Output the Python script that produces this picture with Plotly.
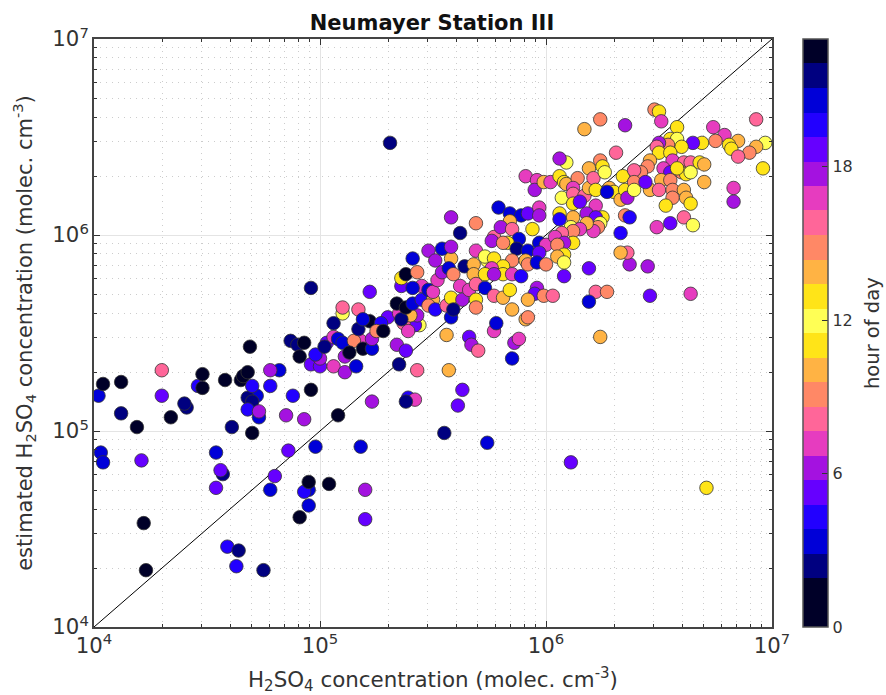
import plotly.graph_objects as go

# log10 of concentration, grouped by region; hour of day per point
low_x = [4.30,4.30,4.21,4.02,4.03,4.04,4.04,4.12,4.12,4.19,
         4.34,4.41,4.40,4.46,4.48,4.48,4.58,4.65,4.66,4.68,
         4.61,4.70,4.72,4.68,4.70,4.70,4.68,4.73,4.73,4.82,
         4.78,4.78,4.88,4.85,4.93,4.96,5.08,5.23,4.54,4.54,
         4.57,4.56,4.80,4.86,4.78,4.98,4.95,4.93,4.95,5.04,
         4.95,4.91,4.22,4.23,4.59,4.64,4.63,4.75,5.18,5.20,
         5.20,5.55,5.74,6.11,6.71,5.31,4.96,4.69]
low_y = [5.31,5.18,4.85,5.18,4.89,4.84,5.24,5.25,5.09,5.02,
         5.07,5.12,5.14,5.23,5.22,5.29,5.26,5.26,5.28,5.30,
         5.02,4.99,5.18,5.17,5.15,5.23,5.11,5.07,5.10,5.31,
         5.31,5.23,5.18,5.08,5.06,5.21,5.08,5.15,4.89,4.71,
         4.78,4.80,4.77,4.90,4.70,4.92,4.70,4.69,4.74,4.73,
         4.62,4.56,4.53,4.29,4.41,4.39,4.31,4.29,4.92,4.70,
         4.55,4.99,4.94,4.84,4.71,6.47,5.73,5.43]
low_h = [8,5,5,3,3,3,0,0,2,0,
         0,2,2,4,0,0,0,0,0,0,
         2,0,3,2,2,4,4,3,6,3,
         6,4,4,6,6,0,0,6,3,5,
         2,5,5,5,3,3,3,4,0,0,
         3,0,0,0,4,2,4,2,3,6,
         5,2,3,5,11,2,2,0]

mid_x = [4.96,5.00,5.00,4.98,5.06,5.11,5.16,5.11,4.87,4.90,
         4.93,4.91,5.03,5.06,5.08,5.02,5.10,5.18,5.15,5.13,
         5.19,5.23,5.23,5.10,5.10,5.17,5.06,5.17,5.22,5.19,
         5.22,5.30,5.27,5.25,5.28,5.34,5.38,5.35,5.43,5.57,
         5.56,5.39,5.42,5.38,5.63,5.61,5.66,5.67,5.70,5.77,
         5.78,5.85,5.86,5.88,5.85]
mid_y = [5.34,5.33,5.37,5.39,5.33,5.30,5.33,5.38,5.46,5.44,
         5.45,5.38,5.45,5.48,5.47,5.43,5.45,5.46,5.46,5.40,
         5.42,5.42,5.47,5.60,5.63,5.62,5.55,5.52,5.56,5.57,
         5.71,5.58,5.55,5.51,5.51,5.44,5.41,5.34,5.31,5.31,
         5.49,5.17,5.16,5.15,5.21,5.13,5.48,5.44,5.41,5.51,
         5.55,5.37,5.45,5.47,5.62]
mid_h = [5,5,6,4,7,6,3,6,2,2,
         0,0,5,7,3,2,3,7,9,0,
         0,3,6,12,8,8,2,2,0,3,
         5,5,4,9,0,6,5,2,8,10,
         10,4,7,2,5,5,5,6,8,7,
         3,3,6,7,10]

ctr_x = [5.44,5.42,5.37,5.39,5.43,5.35,5.40,5.36,5.34,5.38,
         5.41,5.45,5.50,5.48,5.51,5.56,5.58,5.63,5.58,5.59,
         5.36,5.36,5.45,5.38,5.43,5.41,5.48,5.50,5.52,5.54,
         5.58,5.57,5.59,5.62,5.64,5.68,5.68,5.66,5.69,5.69,
         5.69,5.48,5.51,5.54,5.58,5.41,5.58,5.69,5.62,5.69]
ctr_y = [5.54,5.54,5.55,5.51,5.59,5.60,5.59,5.57,5.65,5.63,
         5.65,5.67,5.67,5.64,5.62,5.64,5.68,5.67,5.58,5.62,
         5.74,5.78,5.74,5.80,5.81,5.73,5.72,5.71,5.77,5.81,
         5.88,5.83,5.80,5.74,5.84,5.85,5.80,5.72,5.75,5.67,
         5.63,5.92,5.87,5.93,5.94,5.88,6.09,6.06,6.01,5.92]
ctr_h = [12,5,8,7,6,7,10,2,0,0,
         3,4,10,9,4,8,11,6,3,2,
         5,11,7,0,9,3,3,7,7,6,
         10,3,9,7,2,10,10,7,8,11,
         9,6,6,3,6,3,6,9,2,7]

upc_x = [5.77,5.76,5.79,5.84,5.89,5.92,5.84,5.80,5.85,5.94,
         5.88,5.83,5.81,5.87,5.92,5.74,5.73,5.77,5.85,5.81,
         5.76,5.73,5.81,5.77,5.85,5.89,5.91,5.92,5.73,5.77,
         5.81,5.84,5.96,5.95,5.99,6.03,5.92,5.91,5.92,5.97,
         5.97,5.97,6.00,5.97,5.96,6.00,6.08,6.19,6.37,6.45,
         6.22,6.27,6.19,6.24,6.46,6.64,6.36,6.33,6.33,6.35,
         6.37,6.49,6.55,6.61,6.65]
upc_y = [5.99,5.97,6.14,6.11,6.10,6.11,6.07,6.04,6.03,6.03,
         5.98,5.96,5.96,5.93,5.92,5.87,5.89,5.88,5.87,5.84,
         5.83,5.80,5.80,5.80,5.80,5.79,5.87,5.85,5.73,5.69,
         5.68,5.72,5.73,5.70,5.69,5.69,5.67,5.57,5.58,6.14,
         6.10,5.96,5.95,5.91,5.86,5.85,5.79,5.83,5.85,5.84,
         5.71,5.71,5.66,5.48,5.69,5.70,5.91,5.91,6.01,6.10,
         6.09,6.04,6.06,6.09,6.05]
upc_h = [8,6,3,3,3,5,10,6,8,11,
         3,11,9,2,3,12,12,11,9,11,
         7,11,11,6,7,4,10,9,3,8,
         10,11,6,5,9,8,10,10,9,7,
         6,3,7,5,3,9,5,5,6,6,
         8,9,3,10,5,7,8,10,4,9,
         4,7,5,8,12]

hi_x = [6.17,6.24,6.35,6.31,6.24,6.19,6.09,6.06,5.91,5.96,
        5.95,5.99,6.02,6.06,6.08,6.09,6.14,6.12,6.07,6.12,
        6.12,6.17,6.15,6.19,6.21,6.25,6.26,6.28,6.30,6.22,
        6.27,6.22,6.33,6.35,6.36,6.34,6.12,6.06,6.06,6.18,
        6.25,6.22,6.24,6.23,6.21,6.18,6.11,6.15,6.12,6.07,
        6.04,6.12,6.08,6.05,6.08,6.05,6.08]
hi_y = [6.54,6.59,6.56,6.42,6.38,6.34,6.37,6.39,6.30,6.28,
        6.23,6.27,6.27,6.30,6.27,6.26,6.29,6.24,6.19,6.21,
        6.16,6.20,6.17,6.24,6.29,6.35,6.32,6.24,6.22,6.23,
        6.22,6.15,6.18,6.23,6.19,6.30,6.09,6.11,6.08,6.11,
        6.09,6.09,6.06,6.04,6.02,6.06,6.04,6.03,6.02,6.01,
        5.99,5.96,5.96,5.95,5.90,5.89,5.86]
hi_h = [10,9,6,8,9,10,12,6,7,7,
        6,10,7,11,11,10,9,7,12,8,
        11,8,5,10,8,11,12,10,11,11,
        3,7,10,11,6,11,10,11,4,6,
        11,5,12,9,7,10,12,7,9,8,
        7,11,6,9,11,10,12]

top_x = [6.48,6.50,6.51,6.58,6.74,6.79,6.85,6.93,6.75,6.81,
         6.82,6.97,6.93,6.90,6.85,6.96,6.69,6.65,6.55,6.58,
         6.60,6.54,6.50,6.49,6.50,6.55,6.46,6.45,6.42,6.39,
         6.56,6.61,6.64,6.52,6.55,6.60,6.62,6.58,6.64,6.68,
         6.70,6.51,6.55,6.70,6.39,6.39,6.46,6.44,6.50,6.56,
         6.61,6.56,6.62,6.64,6.53,6.83,6.83]
top_y = [6.64,6.63,6.58,6.55,6.55,6.51,6.48,6.59,6.48,6.46,
         6.44,6.47,6.45,6.42,6.40,6.34,6.47,6.47,6.49,6.49,
         6.45,6.46,6.47,6.45,6.42,6.42,6.38,6.35,6.32,6.33,
         6.38,6.37,6.37,6.34,6.32,6.32,6.31,6.34,6.32,6.37,
         6.36,6.28,6.28,6.27,6.27,6.23,6.23,6.27,6.23,6.23,
         6.23,6.19,6.19,6.16,6.15,6.24,6.17]
top_h = [9,11,7,11,7,7,10,8,9,11,
         11,12,10,9,8,11,11,5,11,12,
         11,9,6,8,11,11,10,9,9,8,
         7,8,8,7,5,9,11,11,12,11,
         10,10,9,10,9,12,10,5,8,9,
         10,9,10,11,11,7,6]

diag = [1e4, 1e7]
band_colors = ["#000028","#000028","#000080","#0000d8","#2200ff","#6600ff","#a412e0","#e63cbf",
               "#ff6699","#ff8866","#ffb344","#ffe418","#ffff55","#ffe418","#ffb344","#ff8866",
               "#ff6699","#e63cbf","#a412e0","#6600ff","#2200ff","#0000d8","#000080","#000028"]
hour_ticks = [0, 6, 12, 18]

log_x = low_x + mid_x + ctr_x + upc_x + hi_x + top_x
log_y = low_y + mid_y + ctr_y + upc_y + hi_y + top_y
hours = low_h + mid_h + ctr_h + upc_h + hi_h + top_h
assert len(log_x) == len(log_y) == len(hours)

scale = []
n = len(band_colors)
for i, c in enumerate(band_colors):
    scale.append([i / n, c])
    scale.append([(i + 1) / n, c])

INK = "#333333"
fig = go.Figure()
fig.add_trace(go.Scatter(x=diag, y=diag, mode="lines", line=dict(color="black", width=1),
                         showlegend=False, hoverinfo="skip"))
fig.add_trace(go.Scatter(
    x=[10 ** v for v in log_x], y=[10 ** v for v in log_y], mode="markers", showlegend=False,
    marker=dict(size=13.5, color=hours, colorscale=scale, cmin=0, cmax=23,
                line=dict(color="#333333", width=0.8), opacity=1,
                colorbar=dict(x=1.0457, xanchor="left", xpad=0, ypad=0, y=0.5, yanchor="middle", len=1,
                              thickness=25, outlinecolor="#555555", outlinewidth=1.5,
                              tickvals=hour_ticks, ticks="inside", ticklen=6, tickcolor=INK,
                              tickfont=dict(size=16, color=INK, family="DejaVu Sans")))))

axis = dict(type="log", range=[4, 7], dtick=1, exponentformat="power", showexponent="all",
            showline=True, linecolor="#444444", linewidth=1.5, mirror="allticks", automargin=False,
            ticks="inside", ticklen=6, tickcolor=INK, zeroline=False,
            showgrid=True, gridcolor="#e4e4e4", gridwidth=1.2,
            tickfont=dict(size=17, color=INK, family="DejaVu Sans"),
            minor=dict(dtick="D1", ticks="inside", ticklen=3, tickcolor=INK, showgrid=True,
                       gridcolor="#cccccc", griddash="1px,5px", gridwidth=1))
label = "H<sub>2</sub>SO<sub>4</sub> concentration (molec. cm<sup>-3</sup>)"
fig.update_layout(
    width=886, height=695, autosize=False,
    margin=dict(l=94, r=114, t=39, b=68),
    paper_bgcolor="white", plot_bgcolor="white",
    font=dict(family="DejaVu Sans", color=INK),
    title=dict(text="<b>Neumayer Station III</b>", x=0.4876, xanchor="center", y=0.967, yanchor="middle",
               font=dict(size=21, color="#111111", family="DejaVu Sans")),
    xaxis=dict(axis, title=dict(text=label, standoff=17, font=dict(size=21.4, color=INK))),
    yaxis=dict(axis, title=dict(text="estimated " + label, standoff=14, font=dict(size=21, color=INK))),
    annotations=[dict(text="hour of day", xref="paper", yref="paper", x=1.1475, y=0.5, xanchor="center",
                      yanchor="middle", textangle=-90, showarrow=False,
                      font=dict(size=19.5, color=INK, family="DejaVu Sans"))],
)
fig.write_html("out.html", config={"displayModeBar": False},
               post_script="document.body.style.margin='0';")
